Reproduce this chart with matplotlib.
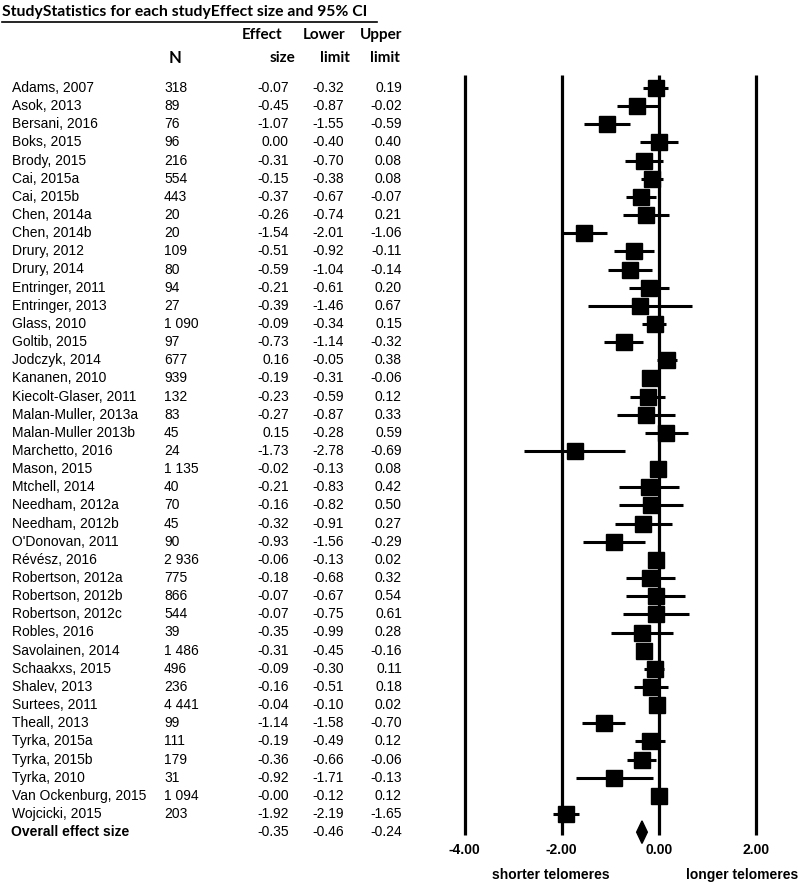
import matplotlib
matplotlib.use("Agg")
import matplotlib.pyplot as plt
from matplotlib.transforms import blended_transform_factory
from matplotlib.patches import Polygon

# ---- data ----
studies = ["Adams, 2007", "Asok, 2013", "Bersani, 2016", "Boks, 2015", "Brody, 2015",
           "Cai, 2015a", "Cai, 2015b", "Chen, 2014a", "Chen, 2014b", "Drury, 2012",
           "Drury, 2014", "Entringer, 2011", "Entringer, 2013", "Glass, 2010", "Goltib, 2015",
           "Jodczyk, 2014", "Kananen, 2010", "Kiecolt-Glaser, 2011", "Malan-Muller, 2013a",
           "Malan-Muller 2013b", "Marchetto, 2016", "Mason, 2015", "Mtchell, 2014",
           "Needham, 2012a", "Needham, 2012b", "O'Donovan, 2011", "Révész, 2016",
           "Robertson, 2012a", "Robertson, 2012b", "Robertson, 2012c", "Robles, 2016",
           "Savolainen, 2014", "Schaakxs, 2015", "Shalev, 2013", "Surtees, 2011",
           "Theall, 2013", "Tyrka, 2015a", "Tyrka, 2015b", "Tyrka, 2010",
           "Van Ockenburg, 2015", "Wojcicki, 2015"]
n_sizes = ["318", "89", "76", "96", "216", "554", "443", "20", "20", "109",
           "80", "94", "27", "1 090", "97", "677", "939", "132", "83", "45",
           "24", "1 135", "40", "70", "45", "90", "2 936", "775", "866", "544",
           "39", "1 486", "496", "236", "4 441", "99", "111", "179", "31",
           "1 094", "203"]
effect = [-0.07, -0.45, -1.07, 0.00, -0.31, -0.15, -0.37, -0.26, -1.54, -0.51,
          -0.59, -0.21, -0.39, -0.09, -0.73, 0.16, -0.19, -0.23, -0.27, 0.15,
          -1.73, -0.02, -0.21, -0.16, -0.32, -0.93, -0.06, -0.18, -0.07, -0.07,
          -0.35, -0.31, -0.09, -0.16, -0.04, -1.14, -0.19, -0.36, -0.92,
          -0.00, -1.92]
lower = [-0.32, -0.87, -1.55, -0.40, -0.70, -0.38, -0.67, -0.74, -2.01, -0.92,
         -1.04, -0.61, -1.46, -0.34, -1.14, -0.05, -0.31, -0.59, -0.87, -0.28,
         -2.78, -0.13, -0.83, -0.82, -0.91, -1.56, -0.13, -0.68, -0.67, -0.75,
         -0.99, -0.45, -0.30, -0.51, -0.10, -1.58, -0.49, -0.66, -1.71,
         -0.12, -2.19]
upper = [0.19, -0.02, -0.59, 0.40, 0.08, 0.08, -0.07, 0.21, -1.06, -0.11,
         -0.14, 0.20, 0.67, 0.15, -0.32, 0.38, -0.06, 0.12, 0.33, 0.59,
         -0.69, 0.08, 0.42, 0.50, 0.27, -0.29, 0.02, 0.32, 0.54, 0.61,
         0.28, -0.16, 0.11, 0.18, 0.02, -0.70, 0.12, -0.06, -0.13,
         0.12, -1.65]
overall = (-0.35, -0.46, -0.24)
ticks = [-4, -2, 0, 2]

W, H = 800, 883
fig = plt.figure(figsize=(W / 100, H / 100), dpi=100)
ax = fig.add_axes([0, 0, 1, 1])
ax.axis("off")
# x: effect size scale (0 at px 659, 48.6 px per unit); y: row index (row 0 at px 88)
ax.set_xlim(-659 / 48.6, (W - 659) / 48.6)
ax.set_ylim((H - 88) / 18.15, -88 / 18.15)

rows = list(range(len(studies)))
orow = len(studies)
ty = blended_transform_factory(fig.transFigure, ax.transData)
sans = "Liberation Sans"

def fx(px):
    return px / W

def fy(py):
    return 1 - py / H

# text columns
for i, (s, n, e, lo, hi) in enumerate(zip(studies, n_sizes, effect, lower, upper)):
    ax.text(fx(12), i, s, transform=ty, ha="left", va="center", fontsize=10, family=sans)
    ax.text(fx(164), i, n, transform=ty, ha="left", va="center", fontsize=10, family=sans)
    ax.text(fx(289), i, f"{e:.2f}", transform=ty, ha="right", va="center", fontsize=10, family=sans)
    ax.text(fx(344), i, f"{lo:.2f}", transform=ty, ha="right", va="center", fontsize=10, family=sans)
    ax.text(fx(402), i, f"{hi:.2f}", transform=ty, ha="right", va="center", fontsize=10, family=sans)

ax.text(fx(11), orow, "Overall effect size", transform=ty, ha="left", va="center",
        fontsize=10, fontweight="bold", family=sans)
for x, v in zip([289, 344, 402], overall):
    ax.text(fx(x), orow, f"{v:.2f}", transform=ty, ha="right", va="center", fontsize=10, family=sans)

# headers
hdr = dict(fontsize=11, fontweight="bold", family="Lato", va="center")
fig.text(fx(2), fy(12), "StudyStatistics for each studyEffect size and 95% CI", ha="left",
         **{**hdr, "fontsize": 11.3})
fig.add_artist(plt.Line2D([fx(2), fx(377)], [fy(22), fy(22)], color="black", lw=1.2))
fig.text(fx(282), fy(35), "Effect", ha="right", **hdr)
fig.text(fx(295), fy(58), "size", ha="right", **hdr)
fig.text(fx(345), fy(35), "Lower", ha="right", **hdr)
fig.text(fx(350), fy(58), "limit", ha="right", **hdr)
fig.text(fx(402), fy(35), "Upper", ha="right", **hdr)
fig.text(fx(400), fy(58), "limit", ha="right", **hdr)
fig.text(fx(175), fy(58), "N", ha="center", **{**hdr, "fontsize": 12})

# forest plot
ax.vlines(ticks, -0.72, 41.15, color="black", lw=2.3)
ax.hlines(rows, lower, upper, color="black", lw=2.2)
ax.plot(effect, rows, "s", color="black", markersize=11)
es, lo, hi = overall
ax.add_patch(Polygon([(lo, orow), (es, orow - 0.62), (hi, orow), (es, orow + 0.62)],
                     closed=True, color="black"))

for t in ticks:
    ax.text(t, 42.0, f"{t:.2f}", ha="center", va="center", fontsize=10,
            fontweight="bold", family=sans)
ax.text(-2.22, 43.35, "shorter telomeres", ha="center", va="center", fontsize=10,
        fontweight="bold", family=sans)
ax.text(1.72, 43.35, "longer telomeres", ha="center", va="center", fontsize=10,
        fontweight="bold", family=sans)

fig.savefig("out.png", dpi=100)
